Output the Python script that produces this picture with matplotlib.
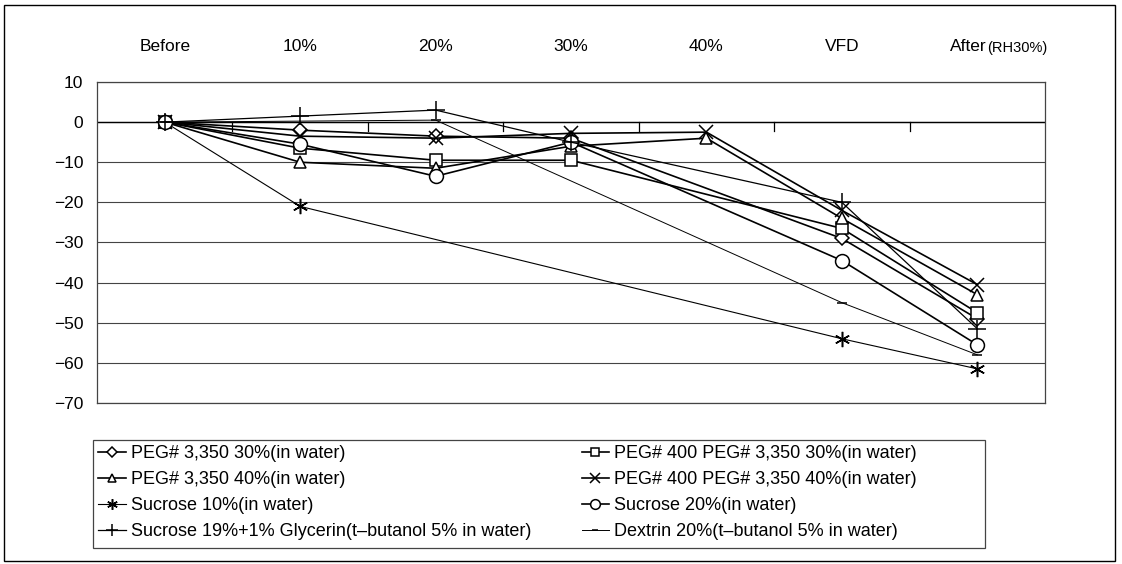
import numpy as np
import matplotlib.pyplot as plt
from matplotlib.patches import Rectangle

plt.rcParams['font.family'] = ['Liberation Sans', 'DejaVu Sans']

# ── data ────────────────────────────────────────────────────────────────
categories = ["Before", "10%", "20%", "30%", "40%", "VFD", "After"]
nan = np.nan
peg3350_30 = [0, -2.0, -3.5, -4.0, nan, -29.0, -49.0]
peg400_30 = [0, -6.5, -9.5, -9.5, nan, -26.5, -47.5]
peg3350_40 = [0, -10.0, -11.5, -6.0, -4.0, -24.0, -43.0]
peg400_40 = [0, -3.5, -4.0, -2.8, -2.5, -22.0, -40.5]
sucrose10 = [0, -21.0, nan, nan, nan, -54.0, -61.5]
sucrose20 = [0, -5.5, -13.5, -5.0, nan, -34.5, -55.5]
sucrose19_gly = [0, 1.5, 3.0, -5.0, nan, -20.0, -51.5]
dextrin20 = [0, nan, 0.5, nan, nan, -45.0, -58.0]

labels = ["PEG# 3,350 30%(in water)", "PEG# 400 PEG# 3,350 30%(in water)",
          "PEG# 3,350 40%(in water)", "PEG# 400 PEG# 3,350 40%(in water)",
          "Sucrose 10%(in water)", "Sucrose 20%(in water)",
          "Sucrose 19%+1% Glycerin(t\u2013butanol 5% in water)",
          "Dextrin 20%(t\u2013butanol 5% in water)"]

series = [peg3350_30, peg400_30, peg3350_40, peg400_40,
          sucrose10, sucrose20, sucrose19_gly, dextrin20]
# marker, marker size, line width
styles = [("D", 7, 1.2), ("s", 9, 1.2), ("^", 9, 1.2), ("x", 10, 1.2),
          ((6, 2, 0), 11, 0.8), ("o", 10, 1.2), ("+", 13, 0.9), ("_", 7, 0.7)]

fig = plt.figure(figsize=(11.22, 5.64), dpi=100)
ax = fig.add_axes([0.0865, 0.2855, 0.8449, 0.5691])

x_all = np.arange(len(categories))
handles = []
for vals, lab, (mk, ms, lw) in zip(series, labels, styles):
    v = np.array(vals, dtype=float)
    ok = ~np.isnan(v)
    h, = ax.plot(x_all[ok], v[ok], color="black", lw=lw, marker=mk, ms=ms,
                 mfc="white", mec="black", mew=1.1, label=lab, zorder=3)
    handles.append(h)

ax.set_xlim(-0.5, len(categories) - 0.5)
ax.set_ylim(-70, 10)
ax.set_yticks(range(-70, 11, 10))
ax.tick_params(axis="y", length=0, pad=10, labelsize=12.5)
ax.grid(axis="y", color="#444444", lw=0.8)
ax.set_axisbelow(True)
for s in ax.spines.values():
    s.set_color("#444444")
    s.set_linewidth(0.9)

# category axis crosses at 0, tick marks between categories, labels on top
ax.axhline(0, color="black", lw=1.0, zorder=2)
ax.set_xticks([])
for b in np.arange(0.5, len(categories) - 1, 1.0):
    ax.plot([b, b], [0, -2.2], color="black", lw=0.9, zorder=2)
tr = ax.get_xaxis_transform()
for i, c in enumerate(categories[:-1]):
    ax.text(i, 1.11, c, transform=tr, ha="center", va="center", fontsize=12.5)
ax.text(len(categories) - 1 + 0.07, 1.11, categories[-1], transform=tr,
        ha="right", va="center", fontsize=12.5)
ax.text(len(categories) - 1 + 0.07, 1.105, "(RH30%)", transform=tr,
        ha="left", va="center", fontsize=10.5)

# legend: fills column-wise, so reorder to match the picture's rows
order = [0, 2, 4, 6, 1, 3, 5, 7]
leg = fig.legend([handles[i] for i in order], [labels[i] for i in order],
                 ncol=2, loc="upper left", bbox_to_anchor=(0.0829, 0.22),
                 borderaxespad=0, fontsize=13, frameon=False, markerscale=0.7,
                 handlelength=1.5, handletextpad=0.3, columnspacing=2.8,
                 labelspacing=0.5, borderpad=0.3)
# legend box is wider than its entries in the original
fig.patches.append(Rectangle((0.0829, 0.0284), 0.795, 0.1915, transform=fig.transFigure,
                             fill=False, ec="#444444", lw=0.9))

# outer chart frame
fig.patches.append(Rectangle((0.004, 0.006), 0.99, 0.986, transform=fig.transFigure,
                             fill=False, ec="black", lw=1.0))

fig.savefig("out.png", dpi=100)
